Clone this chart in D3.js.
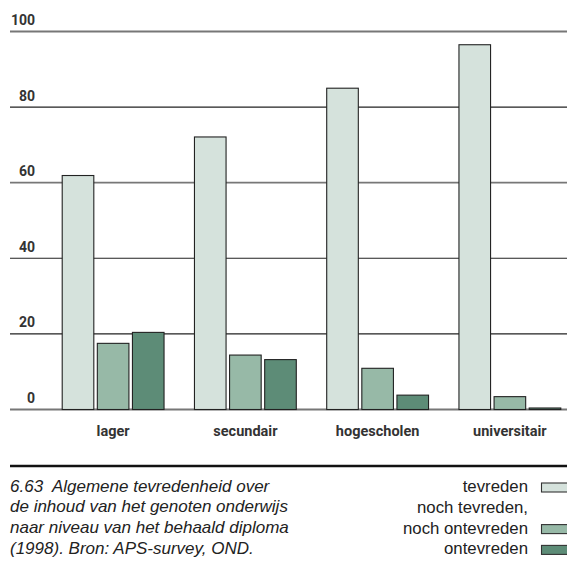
<!DOCTYPE html>
<html>
<head>
<meta charset="utf-8">
<script src="https://cdn.jsdelivr.net/npm/d3@7"></script>
<style>
  html, body { margin: 0; padding: 0; background: #fff; }
  svg { display: block; }
</style>
</head>
<body>
<svg id="chart" width="567" height="565"></svg>
<script>
const categories = ["lager", "secundair", "hogescholen", "universitair"];
const seriesNames = ["tevreden", "noch tevreden, noch ontevreden", "ontevreden"];
const tevreden = [61.9, 72.1, 85.0, 96.5];
const neutraal = [17.5, 14.4, 10.9, 3.4];
const ontevreden = [20.4, 13.2, 3.8, 0.4];
const yTicks = [0, 20, 40, 60, 80, 100];
const captionLines = [
  "6.63  Algemene tevredenheid over",
  "de inhoud van het genoten onderwijs",
  "naar niveau van het behaald diploma",
  "(1998). Bron: APS-survey, OND."
];
const legendLines = ["tevreden", "noch tevreden,", "noch ontevreden", "ontevreden"];

const colors = ["#d5e2dc", "#97b9a7", "#5d8c77"];
const seriesValues = [tevreden, neutraal, ontevreden];

const svg = d3.select("#chart");

const y = d3.scaleLinear().domain([0, 100]).range([409.5, 31.5]);
const x0 = d3.scaleBand().domain(categories).range([47, 576])
  .paddingInner(0.23).paddingOuter(0.115);
const x1 = d3.scaleBand().domain(seriesNames).range([0, x0.bandwidth()])
  .paddingInner(0.1);

// gridlines
svg.append("g").selectAll("line").data(yTicks).join("line")
  .attr("x1", 10).attr("x2", 567)
  .attr("y1", d => y(d)).attr("y2", d => y(d))
  .attr("stroke", d => (d === 0 || d === 100 || d === 60) ? "#777" : "#222")
  .attr("stroke-width", d => (d === 0 || d === 100 || d === 60) ? 1.8 : 1.1);

// tick labels
svg.append("g").selectAll("text").data(yTicks).join("text")
  .attr("x", 35).attr("y", d => y(d) - 6.5)
  .attr("text-anchor", "end")
  .attr("font-family", "Roboto, 'Liberation Sans', sans-serif")
  .attr("font-weight", "bold").attr("font-size", 14)
  .attr("fill", "#333")
  .text(d => d);

// bars
const rows = [];
categories.forEach((c, i) => {
  seriesNames.forEach((s, j) => rows.push({ cat: c, ser: s, v: seriesValues[j][i], j }));
});
svg.append("g").selectAll("rect").data(rows).join("rect")
  .attr("x", d => x0(d.cat) + x1(d.ser))
  .attr("y", d => y(d.v))
  .attr("width", x1.bandwidth())
  .attr("height", d => y(0) - y(d.v))
  .attr("fill", d => colors[d.j])
  .attr("stroke", "#222").attr("stroke-width", 1.1);

// category labels
svg.append("g").selectAll("text").data(categories).join("text")
  .attr("x", d => x0(d) + x0.bandwidth() / 2)
  .attr("y", 436)
  .attr("text-anchor", "middle")
  .attr("font-family", "Roboto, 'Liberation Sans', sans-serif")
  .attr("font-weight", "bold").attr("font-size", 14.5)
  .attr("fill", "#333")
  .text(d => d);

// separator
svg.append("line").attr("x1", 10).attr("x2", 567).attr("y1", 466).attr("y2", 466)
  .attr("stroke", "#111").attr("stroke-width", 2.5);

// caption
svg.append("g").selectAll("text").data(captionLines).join("text")
  .attr("x", 10).attr("y", (d, i) => 491.5 + i * 20.8)
  .attr("font-family", "'Liberation Sans', Arial, sans-serif")
  .attr("font-style", "italic").attr("font-size", 17)
  .attr("fill", "#222")
  .style("white-space", "pre")
  .text(d => d);

// legend
svg.append("g").selectAll("text").data(legendLines).join("text")
  .attr("x", 528).attr("y", (d, i) => 492 + i * 20.8)
  .attr("text-anchor", "end")
  .attr("font-family", "'Liberation Sans', Arial, sans-serif")
  .attr("font-size", 16.8)
  .attr("fill", "#222")
  .text(d => d);

const legendRows = [0, 2, 3];
svg.append("g").selectAll("rect").data(seriesNames).join("rect")
  .attr("x", 541.5)
  .attr("y", (d, i) => 483 + legendRows[i] * 20.8)
  .attr("width", 30).attr("height", 9)
  .attr("fill", (d, i) => colors[i])
  .attr("stroke", "#333").attr("stroke-width", 1.1);
</script>
</body>
</html>
